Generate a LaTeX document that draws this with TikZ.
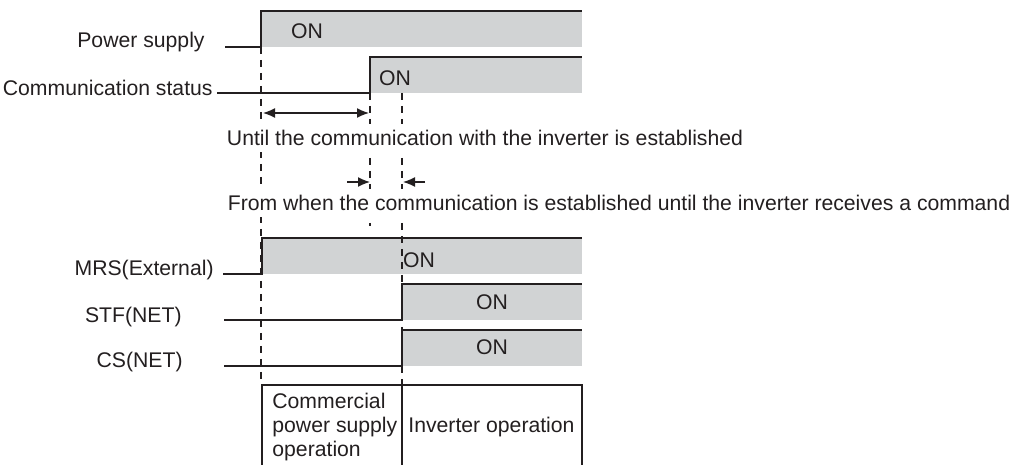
\documentclass[tikz,border=0pt]{standalone}
\usepackage{fontspec}
\setmainfont{Liberation Sans}
\usetikzlibrary{arrows.meta}

\definecolor{onfill}{HTML}{D1D3D4}
\definecolor{ink}{HTML}{231F20}

\begin{document}
\begin{tikzpicture}[x=0.5pt,y=-0.5pt,line cap=butt,line join=miter,
  sig/.style={draw=ink,line width=.65pt},
  guide/.style={draw=ink,line width=.65pt,dash pattern=on 3.5pt off 3pt},
  span/.style={draw=ink,line width=.7pt,-{Latex[length=6pt,width=5pt]}},
  lbl/.style={text=ink,font=\fontsize{10.6}{12}\selectfont,inner sep=0pt},
  note/.style={lbl,fill=white,inner xsep=1pt,inner ysep=3pt},
  onlbl/.style={lbl}]
\useasboundingbox (0,0) rectangle (1009,465);

% Gray ON bands.
\foreach \yy/\xr in {47/261,93/370,274/262,320/402,366/402}
  \fill[onfill] (\xr,\yy-36) rectangle (582,\yy);

% Time guides.
\draw[guide] (261,47) -- (261,385);
\draw[guide] (370,93) -- (370,226);
\draw[guide] (402,93) -- (402,385);

% Signal levels: low, rising edge, high.
\foreach \yy/\xr/\xs in {47/261/225,93/370/217,274/262/223,320/402/224,366/402/224}
  \draw[sig] (\xs,\yy) -- (\xr,\yy) -- (\xr,\yy-36) -- (582,\yy-36);

% Signal names.
\node[lbl,anchor=base east] (pwr) at (205,48) {Power supply};
\node[lbl,anchor=base east] (comm) at (213,96) {Communication status};
\node[lbl,anchor=base east] (mrs) at (214,276) {MRS(External)};
\node[lbl,anchor=base east] (stf) at (182,323) {STF(NET)};
\node[lbl,anchor=base east] (csnet) at (183,368) {CS(NET)};

\node[onlbl] (pwron) at (307,31) {ON};
\node[onlbl] (common) at (395,78) {ON};
\node[onlbl] (mrson) at (419,260) {ON};
\node[onlbl] (stfon) at (492,302) {ON};
\node[onlbl] (cson) at (492,347) {ON};

% Delay spans.
\draw[span,{Latex[length=6pt,width=5pt]}-{Latex[length=6pt,width=5pt]}] (263,113) -- (369,113);
\node[note] (until) at (485,138) {Until the communication with the inverter is established};
\draw[span] (347,182) -- (370,182);
\draw[span] (425,182) -- (403,182);
\node[note] (from) at (619,203) {From when the communication is established until the inverter receives a command};

% Operation table.
\draw[sig] (262,465) -- (262,385) -- (582,385) -- (582,465);
\draw[sig] (402,385) -- (402,465);
\node[lbl,align=left,anchor=west] (commop) at (272,427) {Commercial\\power supply\\operation};
\node[lbl,anchor=west] (invop) at (408,427) {Inverter operation};

\end{tikzpicture}
\end{document}
